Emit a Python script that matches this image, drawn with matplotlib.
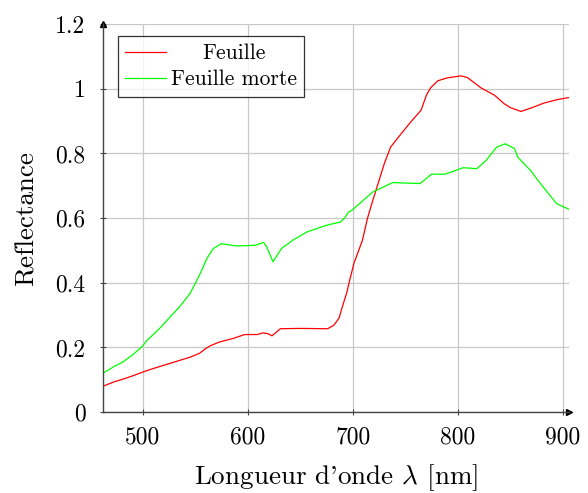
import matplotlib
matplotlib.use("Agg")
import matplotlib.pyplot as plt

# ---------------------------------------------------------------------------
# Données
# ---------------------------------------------------------------------------
feuille_x = [462, 472, 481, 491, 500, 510, 520, 535, 545, 554, 560, 564, 573,
             586, 597, 609, 614, 619, 623, 631, 650, 676, 682, 687, 690, 694,
             697, 701, 709, 714, 719, 730, 736, 746, 755, 765, 770, 774, 781,
             790, 803, 809, 822, 835, 844, 850, 860, 870, 882, 895, 906]
feuille_y = [0.080, 0.093, 0.102, 0.113, 0.124, 0.135, 0.145, 0.160, 0.170,
             0.182, 0.197, 0.205, 0.217, 0.228, 0.240, 0.240, 0.245, 0.243,
             0.236, 0.258, 0.259, 0.258, 0.269, 0.292, 0.326, 0.367, 0.408,
             0.460, 0.530, 0.600, 0.655, 0.769, 0.820, 0.861, 0.897, 0.934,
             0.980, 1.003, 1.025, 1.034, 1.040, 1.035, 1.003, 0.980, 0.954,
             0.942, 0.930, 0.941, 0.956, 0.967, 0.973]

morte_x = [462, 472, 481, 491, 500, 504, 516, 529, 535, 545, 554, 561, 567,
           575, 589, 607, 615, 618, 624, 632, 643, 656, 675, 688, 692, 696,
           699, 719, 738, 764, 775, 788, 805, 818, 827, 837, 845, 854, 857,
           869, 881, 894, 906]
morte_y = [0.120, 0.140, 0.155, 0.179, 0.205, 0.222, 0.259, 0.305, 0.326,
           0.367, 0.424, 0.475, 0.506, 0.521, 0.514, 0.516, 0.525, 0.511,
           0.465, 0.506, 0.532, 0.557, 0.578, 0.588, 0.600, 0.619, 0.624,
           0.681, 0.710, 0.707, 0.736, 0.736, 0.756, 0.753, 0.779, 0.820,
           0.830, 0.815, 0.789, 0.748, 0.697, 0.645, 0.627]

x_ticks = [500, 600, 700, 800, 900]
y_ticks = [0, 0.2, 0.4, 0.6, 0.8, 1, 1.2]
y_labels = ["0", "0.2", "0.4", "0.6", "0.8", "1", "1.2"]

# ---------------------------------------------------------------------------
# Style (Computer Modern, comme LaTeX/pgfplots)
# ---------------------------------------------------------------------------
plt.rcParams.update({
    "font.family": "cmr10",
    "mathtext.fontset": "cm",
    "axes.formatter.use_mathtext": True,
    "font.size": 17,
})

fig = plt.figure(figsize=(5.88, 4.93), dpi=100)
ax = fig.add_axes([0.175, 0.164, 0.793, 0.787])

ax.plot(feuille_x, feuille_y, color="red", linewidth=0.9, label="Feuille")
ax.plot(morte_x, morte_y, color="lime", linewidth=0.9, label="Feuille morte")

ax.set_xlim(462, 906)
ax.set_ylim(0, 1.2)
ax.set_xticks(x_ticks)
ax.set_xticklabels([str(v) for v in x_ticks])
ax.set_yticks(y_ticks)
ax.set_yticklabels(y_labels)
ax.tick_params(direction="inout", length=5, width=0.8, color="#444444",
               labelsize=17)
ax.tick_params(axis="x", pad=8)
ax.tick_params(axis="y", pad=10)

ax.grid(True, color="#c8c8c8", linewidth=0.9)
ax.set_axisbelow(True)

for side in ["top", "right"]:
    ax.spines[side].set_visible(False)
for side in ["left", "bottom"]:
    ax.spines[side].set_color("#444444")
    ax.spines[side].set_linewidth(1.0)

# flèches des axes
ax.plot(1, 0, ">", color="black", markersize=4, transform=ax.transAxes,
        clip_on=False)
ax.plot(0, 1, "^", color="black", markersize=4, transform=ax.transAxes,
        clip_on=False)

ax.set_xlabel(r"Longueur d'onde $\lambda$ [nm]", fontsize=19.5, labelpad=10)
ax.set_ylabel("Reflectance", fontsize=19.5, labelpad=12)

leg = ax.legend(loc="upper left", bbox_to_anchor=(0.032, 0.969), fontsize=15.5,
                frameon=True, fancybox=False, edgecolor="black",
                handlelength=1.9, handletextpad=0.2, borderpad=0.35,
                labelspacing=0.3, borderaxespad=0)
leg.get_frame().set_linewidth(0.9)

# texte de légende centré (comme pgfplots)
fig.canvas.draw()
txts = leg.get_texts()
w_max = max(t.get_window_extent().width for t in txts)
for t in txts:
    t.set_x((w_max - t.get_window_extent().width) / 2)

fig.savefig("out.png", dpi=100)
